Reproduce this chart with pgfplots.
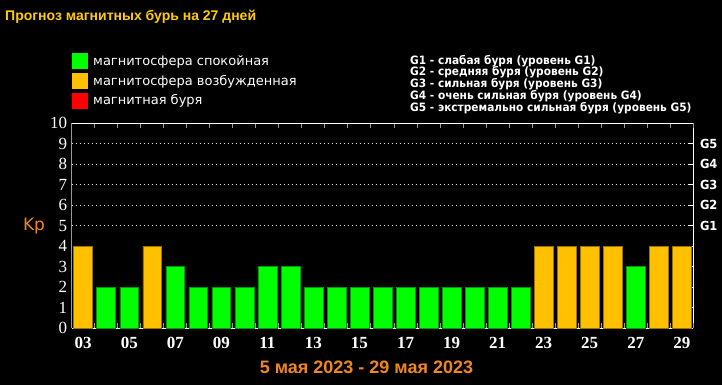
\documentclass[border=0pt]{standalone}
\usepackage{fontspec}
\usepackage{pgfplots}
\pgfplotsset{compat=1.18}
\setmainfont{DejaVu Sans}
\newfontfamily\lsans{Liberation Sans}
\newfontfamily\lserif{Liberation Serif}
\newfontfamily\dvcond[FakeStretch=0.92]{DejaVu Sans}
\definecolor{kgreen}{RGB}{0,255,0}
\definecolor{kyellow}{RGB}{255,192,0}
\definecolor{kred}{RGB}{255,0,0}
\definecolor{ttl}{RGB}{255,204,0}
\definecolor{korange}{RGB}{240,135,30}
\begin{document}
\begin{tikzpicture}
\fill[black] (0,0) rectangle (722bp,-385bp);
\useasboundingbox (0,0) rectangle (722bp,-385bp);
% title
\node[anchor=base west, inner sep=0pt, text=ttl, font=\lsans\bfseries\fontsize{14bp}{16bp}\selectfont] at (5bp,-20.5bp) {Прогноз магнитных бурь на 27 дней};
% legend
\fill[kgreen]  (72bp,-53bp) rectangle (87.5bp,-68.5bp);
\fill[kyellow] (72bp,-73bp) rectangle (87.5bp,-88.5bp);
\fill[kred]    (72bp,-93bp) rectangle (87.5bp,-108.5bp);
\begin{scope}[every node/.style={anchor=base west, inner sep=0pt, text=white, font=\fontsize{13bp}{15bp}\selectfont}]
\node at (93bp,-65.5bp) {магнитосфера спокойная};
\node at (93bp,-85bp) {магнитосфера возбужденная};
\node at (93bp,-104.5bp) {магнитная буря};
\end{scope}
\begin{scope}[every node/.style={anchor=base west, inner sep=0pt, text=white, font=\dvcond\bfseries\fontsize{11.5bp}{12bp}\selectfont}]
\node at (410bp,-64bp) {G1 - слабая буря (уровень G1)};
\node at (410bp,-75.75bp) {G2 - средняя буря (уровень G2)};
\node at (410bp,-87.5bp) {G3 - сильная буря (уровень G3)};
\node at (410bp,-99.25bp) {G4 - очень сильная буря (уровень G4)};
\node at (410bp,-111bp) {G5 - экстремально сильная буря (уровень G5)};
\end{scope}
% Kp label
\node[anchor=base, inner sep=0pt, text=korange, font=\fontsize{17bp}{17bp}\selectfont] at (34bp,-230.7bp) {Kp};
% date
\node[anchor=base, inner sep=0pt, text=korange, font=\lsans\bfseries\fontsize{18bp}{18bp}\selectfont] at (366.5bp,-373bp) {5 мая 2023 - 29 мая 2023};

% grid + right axis
\begin{axis}[at={(71.7bp,-328bp)}, anchor=south west, scale only axis,
  width=621.6bp, height=204.7bp,
  xmin=-0.5, xmax=26.5, ymin=0, ymax=10,
  axis x line=none, axis y line*=right,
  y axis line style={white, line width=1bp},
  ytick={5,6,7,8,9}, yticklabels={G1,G2,G3,G4,G5},
  ymajorgrids, major grid style={white!85!black, dash pattern=on 1bp off 3bp, line width=1bp},
  extra y ticks={1,2,3,4}, extra y tick labels={},
  extra y tick style={grid=none},
  major tick length=5bp, tick align=inside,
  tick style={white, line width=1bp},
  yticklabel style={font=\dvcond\bfseries\fontsize{12.5bp}{12bp}\selectfont, text=white, anchor=west, inner sep=0pt, xshift=6.5bp},
]
\end{axis}

% bars
\begin{axis}[at={(71.7bp,-328bp)}, anchor=south west, scale only axis,
  width=621.6bp, height=204.7bp,
  xmin=-0.5, xmax=26.5, ymin=0, ymax=10,
  axis x line*=box, axis y line*=left,
  x axis line style={white, line width=1bp},
  y axis line style={gray!80, line width=1.5bp},
  ytick={0,1,2,3,4,5,6,7,8,9,10},
  yticklabels={0,1,2,3,4,5,6,7,8,9,10},
  xtick={0,2,4,6,8,10,12,14,16,18,20,22,24,26},
  xticklabels={03,05,07,09,11,13,15,17,19,21,23,25,27,29},
  minor xtick={-0.5,0.5,...,26.5},
  major tick length=0pt, minor tick length=5bp, tick align=inside,
  minor tick style={gray!80, line width=1bp},
  yticklabel style={font=\lserif\fontsize{17bp}{17bp}\selectfont, text=white, anchor=east, inner sep=0pt, xshift=-4.5bp},
  xticklabel style={font=\lserif\bfseries\fontsize{17bp}{17bp}\selectfont, text=white, anchor=north, inner sep=0pt, yshift=-9bp},
]
\addplot[ybar, bar width=0.82, bar shift=0pt, fill=kgreen, draw=kgreen!60!black, line width=0.6bp]
 coordinates {(1,2)(2,2)(4,3)(5,2)(6,2)(7,2)(8,3)(9,3)(10,2)(11,2)(12,2)(13,2)(14,2)(15,2)(16,2)(17,2)(18,2)(19,2)(24,3)};
\addplot[ybar, bar width=0.82, bar shift=0pt, fill=kyellow, draw=kyellow!60!black, line width=0.6bp]
 coordinates {(0,4)(3,4)(20,4)(21,4)(22,4)(23,4)(25,4)(26,4)};
\end{axis}
\end{tikzpicture}
\end{document}
